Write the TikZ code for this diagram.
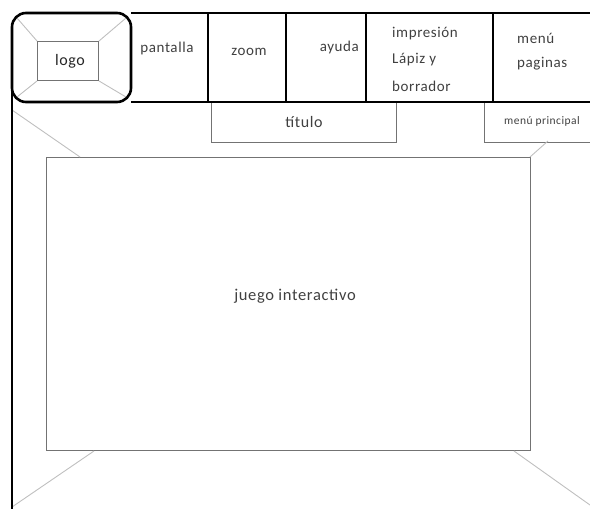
\documentclass[tikz,border=0pt]{standalone}
\usepackage{fontspec}
\setmainfont{Carlito}[LetterSpace=4]
\begin{document}
\begin{tikzpicture}[x=1pt,y=-1pt,
  thickline/.style={line width=2.6pt,black},
  graybox/.style={draw=black!55,line width=0.9pt},
  diag/.style={draw=black!25,line width=0.9pt},
  lbl/.style={font=\fontsize{15}{17}\selectfont,text=black!75,inner sep=0pt}]
\useasboundingbox (0,0) rectangle (590,509);
% coordinates
\coordinate (tl) at (12,13);
\coordinate (tr) at (590,13);
\coordinate (br) at (590,102);
\coordinate (bl) at (12,509);
% inner boxes
\node[graybox,minimum width=61pt,minimum height=39pt,inner sep=0pt] (logo) at (68,61) {};
\node[lbl,font=\fontsize{16}{18}\selectfont,text=black!85] at (70,61) {logo};
\node[graybox,minimum width=185pt,minimum height=40pt,inner sep=0pt,anchor=north west] (titulo) at (211,102) {};
\node[lbl,font=\fontsize{16}{18}\selectfont] at (titulo.center) {título};
\node[graybox,minimum width=110pt,minimum height=40pt,inner sep=0pt,anchor=north west] (mp) at (484,102) {};
\node[lbl,font=\fontsize{11.5}{13}\selectfont] at (542,121) {menú principal};
\node[graybox,minimum width=484pt,minimum height=293pt,inner sep=0pt,anchor=north west] (game) at (46,157) {};
\node[lbl,font=\fontsize{16.5}{19}\selectfont] at (295,296) {juego interactivo};
% logo diagonals
\draw[diag] (17,18) -- (logo.north west);
\draw[diag] (126,18) -- (logo.north east);
\draw[diag] (17,97) -- (logo.south west);
\draw[diag] (126,97) -- (logo.south east);
% game diagonals
\coordinate (gtl) at (80,157);
\coordinate (gtr) at (530,157);
\coordinate (gbl) at (94,451);
\coordinate (gbr) at (514,451);
\draw[diag] (12,110) -- (gtl);
\draw[diag] (gtr) -- (548,141);
\draw[diag] (gbl) -- (12,507);
\draw[diag] (gbr) -- (590,505);
% frame
\draw[line width=2pt,black] (12,90) -- (bl);
\draw[thickline] (131,13) -- (tr);
\draw[thickline] (131,102) -- (br);
\draw[thickline,rounded corners=14pt] (12,13) rectangle (131,102);
\foreach \x in {208,286,366,493} \draw[thickline] (\x,13) -- (\x,102);
% labels
\node[lbl] (pantalla) at (167,48) {pantalla};
\node[lbl] (zoom) at (249,52) {zoom};
\node[lbl,anchor=east] (ayuda) at (359,47) {ayuda};
\node[lbl,anchor=west] (imp) at (392,34) {impresión};
\node[lbl,anchor=west] (lap) at (392,60) {Lápiz y};
\node[lbl,anchor=west] (bor) at (392,86) {borrador};
\node[lbl,anchor=west] (menu) at (517,38) {menú};
\node[lbl,anchor=west] (pag) at (517,64) {paginas};
\end{tikzpicture}
\end{document}
